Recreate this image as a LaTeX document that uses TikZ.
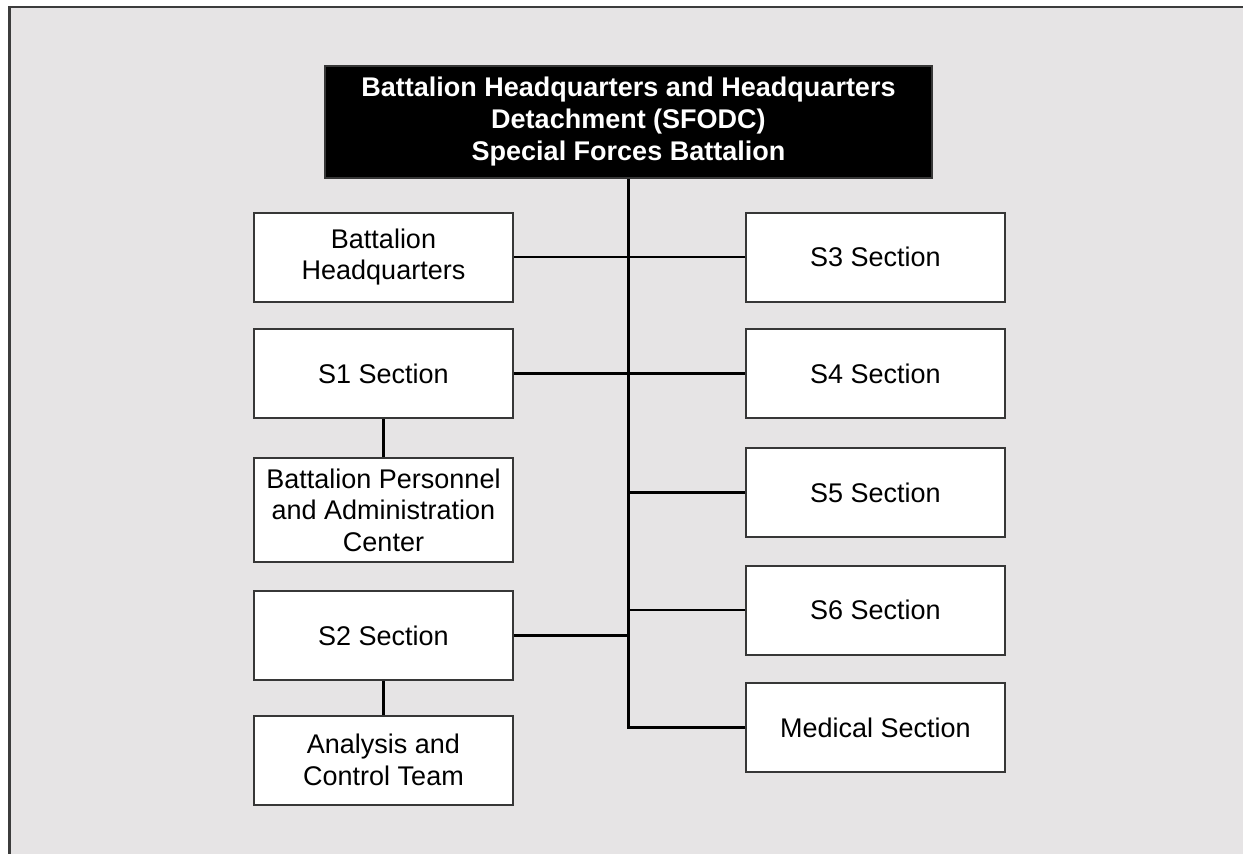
\documentclass[tikz,border=0pt]{standalone}
\usepackage{fontspec}
\setmainfont{Liberation Sans}
\definecolor{panel}{RGB}{230,228,229}
\definecolor{boxline}{RGB}{55,55,55}
\definecolor{frameline}{RGB}{60,60,60}
\tikzset{
  unit/.style={draw=boxline, line width=2pt, fill=white, rectangle,
    minimum width=259pt, minimum height=89pt, inner sep=0pt, align=center,
    font=\fontsize{27}{31.5}\selectfont},
  hq/.style={draw=boxline, line width=1.5pt, fill=black, text=white, rectangle,
    minimum width=607pt, minimum height=112pt, inner sep=0pt, align=center,
    font=\bfseries\fontsize{27}{32}\selectfont},
  link/.style={line width=2.2pt, black}
}
\begin{document}
\begin{tikzpicture}[x=1pt,y=-1pt]
  \useasboundingbox (0,0) rectangle (1243,854);
  \clip (0,0) rectangle (1243,854);
  % page and grey panel with its frame
  \fill[white] (0,0) rectangle (1243,854);
  \fill[panel] (9.5,7) rectangle (1260,870);
  \draw[frameline, line width=2.5pt] (9.5,870) -- (9.5,7) -- (1260,7);

  % command box
  \node[hq] (top) at (628.5,122) {Battalion Headquarters and Headquarters\\Detachment (SFODC)\\Special Forces Battalion};

  % left column
  \node[unit] (bhq)  at (383.5,257)   {Battalion\\Headquarters};
  \node[unit] (s1)   at (383.5,373.5) {S1 Section};
  \node[unit, minimum height=104pt] (bpac) at (383.5,510) {Battalion Personnel\\and Administration\\Center};
  \node[unit] (s2)   at (383.5,635.5) {S2 Section};
  \node[unit] (act)  at (383.5,760)   {Analysis and\\Control Team};

  % right column
  \node[unit] (s3)  at (875.5,257)   {S3 Section};
  \node[unit] (s4)  at (875.5,373.5) {S4 Section};
  \node[unit] (s5)  at (875.5,492.5) {S5 Section};
  \node[unit] (s6)  at (875.5,610)   {S6 Section};
  \node[unit] (med) at (875.5,727.5) {Medical Section};

  % trunk and branches
  \draw[link] (top.south) -- (top.south |- med.west) -- (med.west);
  \draw[link] (bhq.east) -- (s3.west);
  \draw[link] (s1.east) -- (s4.west);
  \draw[link] (s5.west) -- (top.south |- s5.west);
  \draw[link] (s6.west) -- (top.south |- s6.west);
  \draw[link] (s2.east) -- (top.south |- s2.east);
  \draw[link] (s1.south) -- (bpac.north);
  \draw[link] (s2.south) -- (act.north);
\end{tikzpicture}
\end{document}
